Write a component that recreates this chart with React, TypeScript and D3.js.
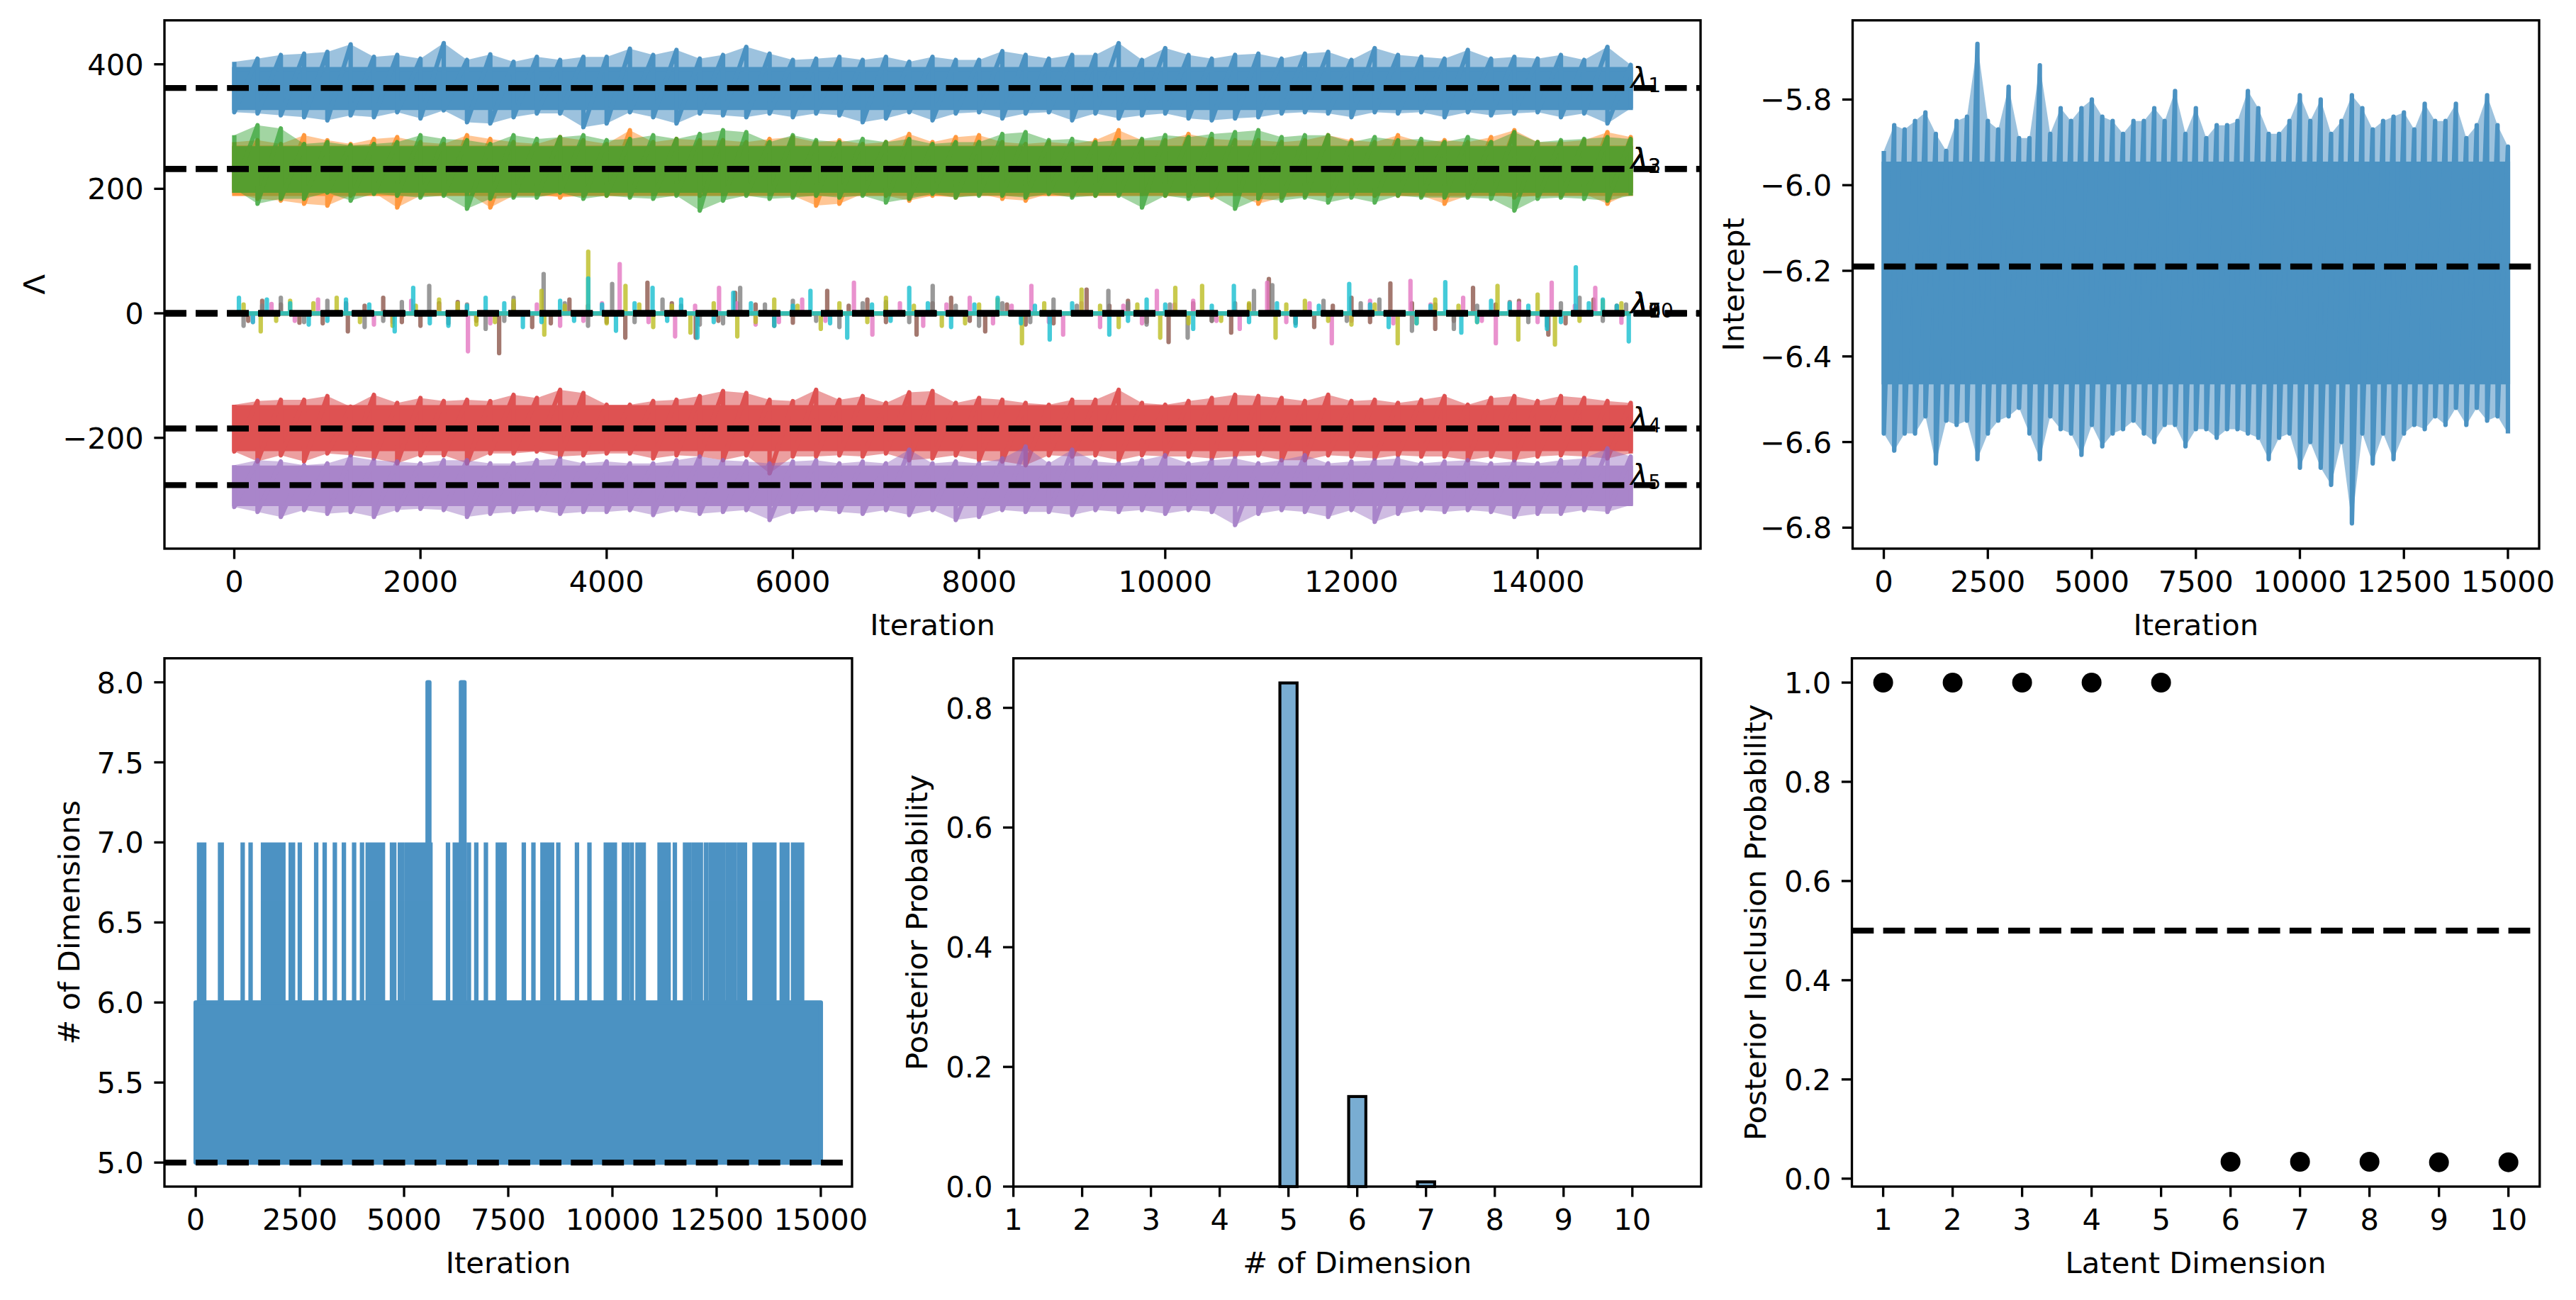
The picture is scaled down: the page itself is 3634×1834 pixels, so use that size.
import React from 'react';
import * as d3 from 'd3';

// ---------- values ----------

// iterations at which the trace envelopes were read (every 250 samples)
const sampleIters = d3.range(0, 15001, 250);

const lambdaNames = ['1', '2', '3', '4', '5', '6', '7', '8', '9', '10'];
const lambdaColors = [
  '#1f77b4', '#ff7f0e', '#2ca02c', '#d62728', '#9467bd',
  '#8c564b', '#e377c2', '#7f7f7f', '#bcbd22', '#17becf',
];
const lambdaTrue = [362, 232, 232, -185, -276, 0, 0, 0, 0, 0];

// upper / lower extremes of the dense loadings traces around each sample iteration
const lam1Hi = [404, 409, 415, 417, 420, 432, 412, 415, 409, 434, 407, 416, 404, 412, 407, 412, 412, 425, 415, 423, 409, 415,
  428, 417, 407, 409, 412, 407, 412, 404, 412, 407, 407, 421, 415, 409, 415, 415, 434, 407, 426, 415, 409, 415,
  417, 409, 417, 420, 407, 426, 415, 412, 409, 423, 409, 412, 409, 415, 407, 428, 399];
const lam1Lo = [323, 321, 318, 315, 310, 318, 315, 323, 313, 326, 307, 305, 315, 321, 321, 299, 305, 323, 315, 305, 321, 318,
  315, 321, 315, 321, 318, 307, 313, 323, 310, 321, 323, 313, 321, 323, 310, 321, 313, 318, 321, 313, 310, 313,
  315, 321, 323, 321, 315, 323, 321, 323, 315, 323, 318, 321, 323, 315, 321, 305, 329];
const lam2Hi = [275, 278, 272, 286, 278, 272, 280, 283, 275, 272, 286, 280, 275, 272, 283, 278, 272, 294, 275, 280, 278, 278,
  275, 280, 283, 275, 278, 272, 275, 288, 275, 283, 286, 275, 272, 275, 272, 278, 294, 278, 278, 288, 280, 278,
  278, 275, 278, 286, 278, 275, 286, 275, 278, 275, 283, 294, 275, 275, 278, 291, 283];
const lam2Lo = [194, 184, 181, 176, 173, 189, 194, 170, 189, 192, 194, 170, 189, 192, 186, 189, 189, 189, 192, 192, 189, 192,
  194, 192, 189, 173, 176, 192, 189, 181, 189, 186, 192, 184, 181, 192, 189, 189, 194, 192, 189, 189, 186, 192,
  176, 186, 189, 189, 192, 189, 189, 189, 176, 189, 192, 186, 189, 189, 192, 176, 194];
const lam3Hi = [286, 302, 297, 272, 275, 270, 272, 275, 286, 280, 278, 272, 286, 280, 283, 286, 278, 280, 286, 280, 288, 294,
  291, 275, 286, 278, 275, 280, 275, 280, 272, 275, 275, 288, 291, 278, 280, 275, 278, 280, 286, 283, 288, 291,
  294, 283, 286, 286, 275, 283, 278, 280, 275, 283, 275, 291, 275, 278, 280, 283, 280];
const lam3Lo = [200, 176, 184, 184, 194, 181, 192, 189, 186, 189, 168, 184, 186, 186, 194, 184, 189, 186, 184, 189, 165, 181,
  189, 184, 186, 189, 186, 189, 178, 184, 192, 186, 189, 189, 186, 192, 186, 189, 189, 170, 189, 184, 189, 168,
  184, 181, 186, 178, 186, 178, 189, 186, 186, 186, 184, 165, 184, 186, 184, 181, 189];
const lam4Hi = [-147, -141, -139, -139, -133, -150, -131, -144, -136, -141, -139, -141, -131, -136, -123, -128, -147, -147, -141, -139, -133, -125,
  -128, -139, -141, -123, -139, -133, -144, -127, -125, -144, -136, -139, -144, -147, -139, -139, -123, -144, -147, -141, -136, -131,
  -133, -136, -141, -131, -141, -139, -144, -139, -133, -147, -136, -133, -141, -133, -136, -141, -144];
const lam4Lo = [-222, -238, -228, -238, -225, -228, -233, -241, -228, -228, -241, -225, -225, -222, -230, -228, -225, -225, -233, -228, -230, -236,
  -228, -257, -230, -230, -228, -230, -225, -236, -233, -228, -236, -238, -244, -228, -230, -228, -236, -228, -230, -230, -233, -230,
  -228, -236, -236, -228, -230, -233, -228, -230, -230, -236, -230, -236, -230, -228, -230, -233, -225];
const lam5Hi = [-244, -236, -238, -244, -241, -230, -236, -238, -241, -236, -236, -241, -241, -236, -233, -241, -238, -241, -241, -236, -230, -236,
  -238, -241, -238, -236, -241, -238, -241, -219, -241, -238, -241, -233, -214, -241, -219, -238, -241, -236, -228, -241, -236, -233,
  -241, -236, -228, -241, -238, -236, -233, -241, -238, -236, -241, -238, -241, -236, -233, -217, -230];
const lam5Lo = [-311, -319, -327, -316, -322, -319, -327, -316, -314, -316, -327, -322, -319, -316, -322, -319, -319, -316, -324, -316, -322, -319,
  -316, -332, -319, -316, -319, -322, -316, -324, -316, -332, -327, -316, -319, -319, -324, -316, -319, -316, -322, -316, -319, -340,
  -322, -316, -319, -327, -316, -335, -322, -316, -319, -316, -319, -327, -322, -322, -316, -319, -308];
// solid body of each dense trace [low, high]
const lamCores = [[330, 392], [192, 266], [197, 265], [-218, -151], [-306, -248]];

// excursions of the near-zero loadings [iteration, value]
const lam6Spikes = [[150, -12], [300, 20], [500, 14], [700, -15], [950, -16], [1220, -29], [1400, 12], [1600, 25], [1800, -14],
  [2000, -20], [2200, 16], [2400, 18], [2600, -12], [2845, -64], [3000, 14], [3200, -22], [3400, -16], [3600, 22], [3800, 12],
  [4000, -14], [4200, -39], [4438, 49], [4700, 16], [4957, -39], [5200, -12], [5380, 33], [5600, 14], [5800, -20], [6000, -15],
  [6369, 36], [6600, 12], [6800, 22], [7000, -14], [7329, -34], [7500, 16], [7700, 25], [7900, -12], [8066, -29], [8300, 14],
  [8500, -18], [8800, -16], [9155, 38], [9400, 12], [9600, 20], [9800, -14], [10036, -46], [10300, 16], [10500, -12],
  [10708, -31], [10900, 14], [11113, 55], [11400, -16], [11600, -22], [11800, 12], [12000, 25], [12200, -14], [12418, 48],
  [12650, 16], [12900, -25], [13100, -12], [13306, 41], [13550, 14], [13800, 20], [14115, -34], [14300, -16], [14600, 22],
  [14850, 12]];
const lam7Spikes = [[200, -14], [400, 15], [650, -12], [900, 22], [1200, 16], [1500, -18], [1700, -14], [1900, 20], [2200, 12],
  [2510, -61], [2750, -16], [3000, 18], [3250, 14], [3500, -20], [3750, -12], [3950, 16], [4140, 79], [4450, -14], [4735, -37],
  [4950, 12], [5207, 41], [5400, 16], [5600, -18], [5850, -14], [6100, 22], [6350, -12], [6656, 49], [6854, -34], [7150, 16],
  [7400, -20], [7650, 14], [7900, 25], [8150, -16], [8350, 12], [8562, 44], [8750, -14], [8903, -34], [9100, 16], [9300, -22],
  [9550, 12], [9750, -16], [9910, 36], [10100, 14], [10300, 20], [10550, -12], [10800, -25], [11095, 49], [11300, -14],
  [11550, 16], [11789, -48], [12000, -12], [12200, 20], [12450, -16], [12634, 52], [12850, 14], [13200, 25], [13400, -12],
  [13551, -48], [13800, 16], [14000, -14], [14151, 49], [14400, 12], [14619, 41], [14900, -15]];
const lam8Spikes = [[100, -20], [300, 12], [500, 25], [750, -14], [1000, 20], [1200, 16], [1400, -22], [1600, -12], [1800, 18],
  [2094, 44], [2300, -16], [2500, 14], [2700, -25], [2900, -12], [3000, 25], [3323, 63], [3550, 16], [3800, -20], [4059, 47],
  [4300, -14], [4600, 22], [4800, 12], [5000, -18], [5250, -16], [5434, 41], [5700, 14], [6000, 20], [6250, -12], [6500, -22],
  [6750, 16], [7000, 18], [7250, -14], [7502, 44], [7750, 12], [8000, -20], [8250, 16], [8550, -14], [8800, 22], [9050, 12],
  [9389, 36], [9600, 16], [9800, -18], [10050, 14], [10241, -39], [10500, -12], [10750, 16], [10953, 36], [11150, 45],
  [11400, -14], [11700, 20], [11950, -12], [12100, 16], [12300, 22], [12650, -28], [12900, 14], [13100, -25], [13350, 12],
  [13700, 18], [13900, -14], [14100, -20], [14250, 16], [14450, 25], [14700, -12], [14950, 14]];
const lam9Spikes = [[100, 14], [284, -29], [450, -12], [600, 20], [850, 16], [1100, 25], [1350, -14], [1700, -20], [1950, 12],
  [2200, 22], [2400, 16], [2600, -18], [2800, -14], [3000, 20], [3300, 36], [3330, -34], [3550, 12], [3802, 99], [4000, -16],
  [4202, 44], [4350, 14], [4500, -22], [4700, 12], [4900, -31], [5150, 16], [5403, -37], [5600, -14], [5800, 22], [6050, 12],
  [6300, -25], [6500, 16], [6800, -14], [7000, 25], [7300, 12], [7600, -20], [7850, -16], [8000, 14], [8200, 22], [8461, -48],
  [8700, 16], [9101, 38], [9300, 12], [9500, -22], [9700, 14], [9946, -39], [10108, 41], [10250, -16], [10396, 44],
  [10600, -12], [10900, 16], [11185, -39], [11300, 14], [11500, 20], [11750, -12], [12000, -18], [12250, 14], [12497, -48],
  [12700, -16], [12900, 22], [13150, 12], [13350, -14], [13569, 44], [13792, -42], [14000, 30], [14186, -50], [14450, -12],
  [14700, 20], [14900, 16]];
const lam10Spikes = [[50, 25], [200, -14], [350, 22], [600, 16], [800, -18], [1000, -12], [1200, 22], [1450, 14], [1723, -29],
  [1922, 41], [2100, -16], [2300, -20], [2500, 12], [2700, 25], [2900, 16], [3100, -22], [3300, -14], [3500, 20], [3650, -12],
  [3802, 56], [3950, 14], [4100, -28], [4300, 16], [4493, 41], [4650, -12], [4800, 22], [4975, -39], [5150, -14], [5360, 33],
  [5550, 16], [5800, -20], [6000, 12], [6189, 36], [6400, -16], [6584, -39], [6850, 14], [7050, -12], [7250, 41], [7450, 16],
  [7700, -22], [7950, 14], [8200, 25], [8450, -16], [8600, 12], [8759, -42], [9000, 16], [9399, -34], [9600, -12], [9800, 22],
  [10000, 14], [10300, -25], [10500, 12], [10737, 44], [10900, -14], [11200, 16], [11400, -20], [11650, 12], [11976, 47],
  [12200, 14], [12400, -22], [12700, -16], [12850, 12], [13008, 50], [13180, -31], [13350, -14], [13500, 20], [13700, 16],
  [13900, 12], [14100, -25], [14250, -14], [14410, 74], [14550, 16], [14700, 22], [14850, 12], [14979, -45]];

// intercept trace extremes
const interceptHi = [-5.92, -5.86, -5.87, -5.85, -5.83, -5.88, -5.92, -5.85, -5.84, -5.67, -5.85, -5.87, -5.77, -5.89, -5.89,
  -5.72, -5.88, -5.82, -5.85, -5.82, -5.80, -5.84, -5.85, -5.88, -5.85, -5.85, -5.82, -5.85, -5.78, -5.88, -5.82, -5.89,
  -5.86, -5.86, -5.85, -5.78, -5.82, -5.88, -5.88, -5.85, -5.79, -5.85, -5.80, -5.88, -5.85, -5.79, -5.82, -5.87, -5.85,
  -5.84, -5.83, -5.87, -5.81, -5.85, -5.85, -5.81, -5.89, -5.86, -5.79, -5.86, -5.91];
const interceptLo = [-6.58, -6.62, -6.58, -6.58, -6.54, -6.65, -6.55, -6.56, -6.55, -6.64, -6.58, -6.55, -6.54, -6.52, -6.58,
  -6.64, -6.54, -6.57, -6.58, -6.63, -6.56, -6.61, -6.58, -6.57, -6.55, -6.58, -6.60, -6.56, -6.56, -6.61, -6.57, -6.57,
  -6.59, -6.57, -6.57, -6.58, -6.59, -6.64, -6.59, -6.58, -6.66, -6.60, -6.66, -6.70, -6.60, -6.79, -6.58, -6.65, -6.58,
  -6.64, -6.58, -6.56, -6.57, -6.54, -6.56, -6.52, -6.56, -6.52, -6.55, -6.54, -6.58];
const interceptCore = [-6.46, -5.95];
const interceptTrue = -6.19;

// number of active dimensions: flips between 5 and 6, visits to 7 and 8
const dimBand = [5, 6];
const dimTrue = 5;
const sevenVisits = [81, 136, 204, 584, 624, 1127, 1317, 1615, 1670, 1724, 1805, 1860, 1955, 2036, 2104, 2280, 2335, 2498,
  2891, 3095, 3339, 3556, 3801, 3991, 4127, 4181, 4235, 4289, 4344, 4412, 4493, 4710, 4765, 4900, 4955, 5063, 5117, 5199,
  5267, 5335, 5403, 5470, 5538, 5633, 6054, 6217, 6285, 6556, 6733, 6964, 7249, 7317, 7411, 7873, 8104, 8321, 8375, 8429,
  8497, 8552, 8701, 9149, 9448, 9841, 9896, 9963, 10058, 10276, 10357, 10466, 10601, 10669, 10751, 11131, 11199, 11281,
  11348, 11498, 11742, 11796, 11851, 11959, 12027, 12122, 12244, 12353, 12407, 12475, 12543, 12611, 12665, 12773, 12841,
  12936, 13045, 13099, 13180, 13411, 13479, 13533, 13615, 13696, 13750, 13818, 13886, 14063, 14131, 14199, 14334, 14403,
  14484, 14552];
const eightVisits = [[5565, 5606], [6366, 6448]];

// posterior over number of dimensions
const dimCategories = [1, 2, 3, 4, 5, 6, 7, 8, 9, 10];
const dimProbability = [0, 0, 0, 0, 0.8416, 0.1505, 0.0079, 0, 0, 0];

// posterior inclusion probability per latent dimension
const latentDims = [1, 2, 3, 4, 5, 6, 7, 8, 9, 10];
const inclusionProb = [1, 1, 1, 1, 1, 0.034, 0.034, 0.034, 0.033, 0.033];

// ---------- drawing ----------
const FONT = 'DejaVu Sans';
const FS = 41.67;
const LW = 6.25; // 1.5pt trace
const DASH_W = 8.33;
const DASH = '30.8 13.3';
const ALPHA = 0.8;
const FRINGE = 0.55; // partial coverage of the sparse outer part of a dense trace
const minus = (s: string) => s.replace(/-/g, '\u2212');

interface Box { left: number; top: number; width: number; height: number }

const P1: Box = { left: 232, top: 28.7, width: 2167, height: 745.3 };
const P2: Box = { left: 2613.5, top: 28.7, width: 968.5, height: 745.3 };
const P3: Box = { left: 232, top: 928.7, width: 970, height: 745.3 };
const P4: Box = { left: 1429.6, top: 928.7, width: 970.2, height: 745.3 };
const P5: Box = { left: 2612.5, top: 928.7, width: 970.3, height: 745.3 };

function Frame({ box, x, y, xTicks, yTicks, xFmt, yFmt, xLabel, yLabel, yLabelX }) {
  const bottom = box.top + box.height;
  return (
    <g fontFamily={FONT} fontSize={FS} fill="#000">
      <rect x={box.left} y={box.top} width={box.width} height={box.height}
        fill="none" stroke="#000" strokeWidth={3.33} />
      {xTicks.map((t) => (
        <g key={'x' + t}>
          <line x1={x(t)} x2={x(t)} y1={bottom} y2={bottom + 14.6} stroke="#000" strokeWidth={3.33} />
          <text x={x(t)} y={bottom + 61} textAnchor="middle">{minus(xFmt(t))}</text>
        </g>
      ))}
      {yTicks.map((t) => (
        <g key={'y' + t}>
          <line x1={box.left - 14.6} x2={box.left} y1={y(t)} y2={y(t)} stroke="#000" strokeWidth={3.33} />
          <text x={box.left - 29.2} y={y(t) + 15} textAnchor="end">{minus(yFmt(t))}</text>
        </g>
      ))}
      <text x={box.left + box.width / 2} y={bottom + 121.6} textAnchor="middle">{xLabel}</text>
      <text transform={`translate(${yLabelX},${box.top + box.height / 2}) rotate(-90)`} textAnchor="middle">
        {yLabel}
      </text>
    </g>
  );
}

type Env = { it: number; top: number; bot: number };

const envelopePoints = (hi: number[], lo: number[]): Env[] =>
  hi.map((h, k) => ({ it: sampleIters[k], top: h, bot: lo[k] }));

// dense MCMC trace: faint envelope, solid body, and a stroke running through every read extreme
function DenseTrace({ hi, lo, core, x, y, color }) {
  const env = envelopePoints(hi, lo);
  const area = d3.area<Env>().x((d) => x(d.it)).y0((d) => y(d.bot)).y1((d) => y(d.top));
  const bodyArea = d3.area<Env>().x((d) => x(d.it)).y0(() => y(core[0])).y1(() => y(core[1]));
  const zig = d3.line<number[]>().x((d) => x(d[0])).y((d) => y(d[1]));
  const zigPts: number[][] = [];
  env.forEach((d) => { zigPts.push([d.it, d.top], [d.it, d.bot]); });
  return (
    <g opacity={ALPHA}>
      <path d={area(env) || ''} fill={color} fillOpacity={FRINGE} />
      <path d={bodyArea(env) || ''} fill={color} stroke={color} strokeWidth={LW} />
      <path d={zig(zigPts) || ''} fill="none" stroke={color} strokeWidth={LW} strokeLinejoin="round" />
    </g>
  );
}

export default function App() {
  const iterDomain = [-750, 15750];
  const first = sampleIters[0];
  const last = sampleIters[sampleIters.length - 1];

  // --- panel 1: loadings traces
  const x1 = d3.scaleLinear().domain(iterDomain).range([P1.left, P1.left + P1.width]);
  const y1 = d3.scaleLinear().domain([-378, 470.6]).range([P1.top + P1.height, P1.top]);
  const dense = [
    { hi: lam1Hi, lo: lam1Lo }, { hi: lam2Hi, lo: lam2Lo }, { hi: lam3Hi, lo: lam3Lo },
    { hi: lam4Hi, lo: lam4Lo }, { hi: lam5Hi, lo: lam5Lo },
  ];
  const sparse = [lam6Spikes, lam7Spikes, lam8Spikes, lam9Spikes, lam10Spikes];
  const line1 = d3.line<number[]>().x((d) => x1(d[0])).y((d) => y1(d[1]));
  const spikePath = (spikes: number[][]) => {
    const s = [...spikes].sort((a, b) => a[0] - b[0]);
    const pts: number[][] = [[first, 0]];
    s.forEach(([t, v]) => { pts.push([t, 0], [t, v], [t, 0]); });
    pts.push([last, 0]);
    return line1(pts);
  };

  // --- panel 2: intercept
  const x2 = d3.scaleLinear().domain(iterDomain).range([P2.left, P2.left + P2.width]);
  const y2 = d3.scaleLinear().domain([-6.849, -5.615]).range([P2.top + P2.height, P2.top]);

  // --- panel 3: number of dimensions
  const x3 = d3.scaleLinear().domain(iterDomain).range([P3.left, P3.left + P3.width]);
  const y3 = d3.scaleLinear().domain([4.85, 8.15]).range([P3.top + P3.height, P3.top]);
  const sevenPath = sevenVisits.map((t) => `M${x3(t)},${y3(dimBand[1])}V${y3(7)}`).join('');
  const eightPath = eightVisits
    .map(([a, b]) => `M${x3(a)},${y3(dimBand[1])}V${y3(8)}H${x3(b)}V${y3(dimBand[1])}`).join('');

  // --- panel 4: bars
  const x4 = d3.scaleLinear().domain([1, 11]).range([P4.left, P4.left + P4.width]);
  const y4 = d3.scaleLinear().domain([0, 0.8828]).range([P4.top + P4.height, P4.top]);

  // --- panel 5: inclusion probability
  const x5 = d3.scaleLinear().domain([0.55, 10.45]).range([P5.left, P5.left + P5.width]);
  const y5 = d3.scaleLinear().domain([-0.016, 1.049]).range([P5.top + P5.height, P5.top]);

  const fInt = d3.format('d');
  const f1 = d3.format('.1f');

  return (
    <div style={{ position: 'absolute', left: 0, top: 0, background: '#fff' }}>
      <svg width={3634} height={1834} viewBox="0 0 3634 1834" style={{ display: 'block' }}>
        <rect width={3634} height={1834} fill="#fff" />

        {/* panel 1 */}
        {dense.map((d, i) => (
          <DenseTrace key={'d' + i} hi={d.hi} lo={d.lo} core={lamCores[i]} x={x1} y={y1} color={lambdaColors[i]} />
        ))}
        {sparse.map((s, i) => (
          <g key={'s' + i} opacity={ALPHA}>
            <path d={spikePath(s) || ''} fill="none" stroke={lambdaColors[i + 5]} strokeWidth={LW}
              strokeLinejoin="round" />
          </g>
        ))}
        {lambdaTrue.map((m, i) => (
          <line key={'m' + i} x1={P1.left} x2={P1.left + P1.width} y1={y1(m)} y2={y1(m)}
            stroke="#000" strokeWidth={DASH_W} strokeDasharray={DASH} />
        ))}
        {lambdaTrue.map((m, i) => (
          <text key={'l' + i} x={x1(last)} y={y1(m)} fontFamily={FONT} fontSize={FS}>
            <tspan fontStyle="italic">λ</tspan>
            <tspan fontSize={28} dy={6}>{lambdaNames[i]}</tspan>
          </text>
        ))}
        <Frame box={P1} x={x1} y={y1} xTicks={d3.range(0, 14001, 2000)} yTicks={[-200, 0, 200, 400]}
          xFmt={fInt} yFmt={fInt} xLabel="Iteration" yLabel="Λ" yLabelX={63} />

        {/* panel 2 */}
        <DenseTrace hi={interceptHi} lo={interceptLo} core={interceptCore} x={x2} y={y2} color={lambdaColors[0]} />
        <line x1={P2.left} x2={P2.left + 0.99 * P2.width} y1={y2(interceptTrue)} y2={y2(interceptTrue)}
          stroke="#000" strokeWidth={DASH_W} strokeDasharray={DASH} />
        <Frame box={P2} x={x2} y={y2} xTicks={d3.range(0, 15001, 2500)} yTicks={[-6.8, -6.6, -6.4, -6.2, -6.0, -5.8]}
          xFmt={fInt} yFmt={f1} xLabel="Iteration" yLabel="Intercept" yLabelX={2460} />

        {/* panel 3 */}
        <g opacity={ALPHA} stroke={lambdaColors[0]} strokeWidth={LW} strokeLinejoin="round">
          <rect x={x3(first)} y={y3(dimBand[1])} width={x3(last) - x3(first)} height={y3(dimBand[0]) - y3(dimBand[1])}
            fill={lambdaColors[0]} />
          <path d={sevenPath + eightPath} fill="none" />
        </g>
        <line x1={P3.left} x2={P3.left + 0.99 * P3.width} y1={y3(dimTrue)} y2={y3(dimTrue)}
          stroke="#000" strokeWidth={DASH_W} strokeDasharray={DASH} />
        <Frame box={P3} x={x3} y={y3} xTicks={d3.range(0, 15001, 2500)} yTicks={[5, 5.5, 6, 6.5, 7, 7.5, 8]}
          xFmt={fInt} yFmt={f1} xLabel="Iteration" yLabel="# of Dimensions" yLabelX={112} />

        {/* panel 4 */}
        {dimCategories.map((c, i) => (
          <rect key={'b' + c} x={x4(c - 0.125)} y={y4(dimProbability[i])} width={x4(c + 0.125) - x4(c - 0.125)}
            height={y4(0) - y4(dimProbability[i])} fill="#1f77b4" fillOpacity={0.6} stroke="#000" strokeWidth={4.17} />
        ))}
        <Frame box={P4} x={x4} y={y4} xTicks={dimCategories} yTicks={[0, 0.2, 0.4, 0.6, 0.8]}
          xFmt={fInt} yFmt={f1} xLabel="# of Dimension" yLabel="Posterior Probability" yLabelX={1308} />

        {/* panel 5 */}
        {latentDims.map((c, i) => (
          <circle key={'c' + c} cx={x5(c)} cy={y5(inclusionProb[i])} r={14} fill="#000" />
        ))}
        <line x1={P5.left} x2={P5.left + 0.99 * P5.width} y1={y5(0.5)} y2={y5(0.5)}
          stroke="#000" strokeWidth={DASH_W} strokeDasharray={DASH} />
        <Frame box={P5} x={x5} y={y5} xTicks={latentDims} yTicks={[0, 0.2, 0.4, 0.6, 0.8, 1.0]}
          xFmt={fInt} yFmt={f1} xLabel="Latent Dimension" yLabel="Posterior Inclusion Probability" yLabelX={2491} />
      </svg>
    </div>
  );
}
